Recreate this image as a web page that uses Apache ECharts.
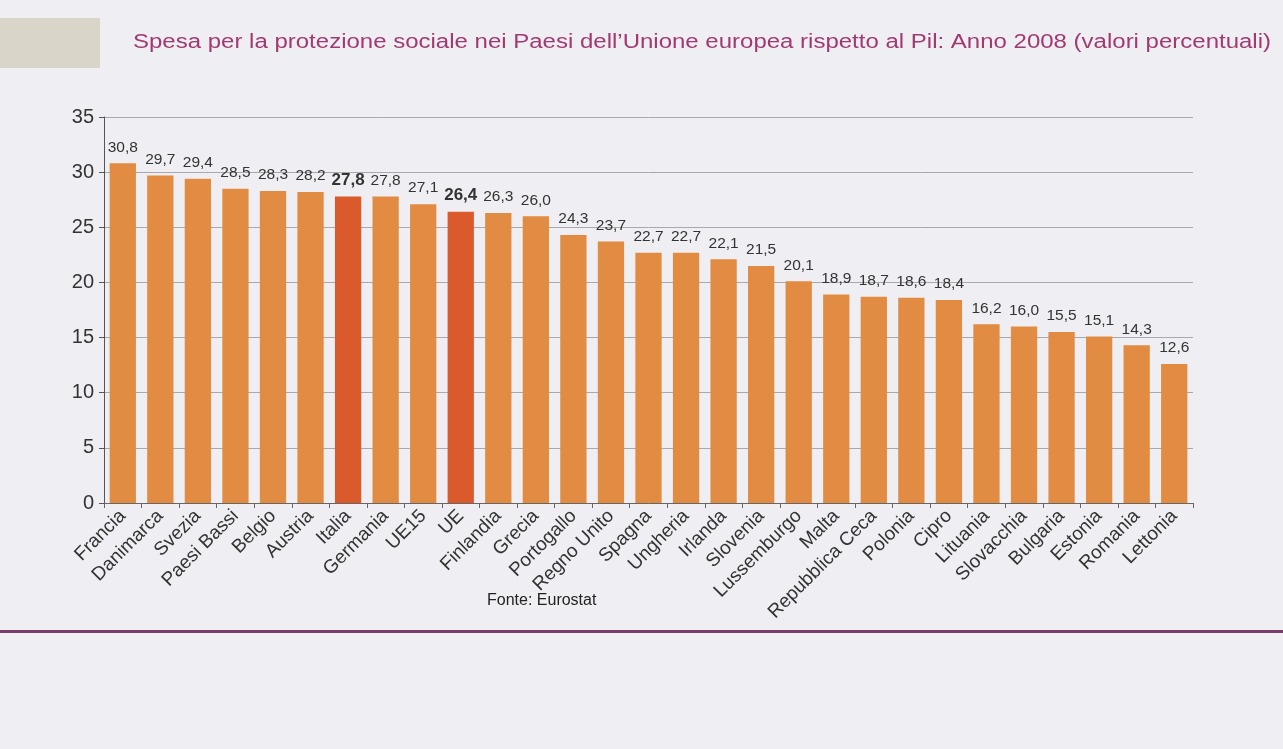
<!DOCTYPE html>
<html>
<head>
<meta charset="utf-8">
<script src="https://cdn.jsdelivr.net/npm/echarts@6/dist/echarts.min.js"></script>
<style>
html,body{margin:0;padding:0;background:#efeff3;}
#c{width:1283px;height:749px;}
</style>
</head>
<body>
<div id="c"></div>
<script>
const titleText = "Spesa per la protezione sociale nei Paesi dell\u2019Unione europea rispetto al Pil: Anno 2008 (valori percentuali)";
const sourceText = "Fonte: Eurostat";
const categories = ["Francia","Danimarca","Svezia","Paesi Bassi","Belgio","Austria","Italia","Germania","UE15","UE","Finlandia","Grecia","Portogallo","Regno Unito","Spagna","Ungheria","Irlanda","Slovenia","Lussemburgo","Malta","Repubblica Ceca","Polonia","Cipro","Lituania","Slovacchia","Bulgaria","Estonia","Romania","Lettonia"];
const values = [30.8,29.7,29.4,28.5,28.3,28.2,27.8,27.8,27.1,26.4,26.3,26.0,24.3,23.7,22.7,22.7,22.1,21.5,20.1,18.9,18.7,18.6,18.4,16.2,16.0,15.5,15.1,14.3,12.6];
const highlighted = ["Italia","UE"];
const yTicks = [0,5,10,15,20,25,30,35];

const chart = echarts.init(document.getElementById('c'), null, {renderer:'canvas'});
const data = values.map((v,i)=>{
  const hi = highlighted.includes(categories[i]);
  return {
    value: v,
    itemStyle: {color: hi ? '#da5a2c' : '#e28b42'},
    label: {fontWeight: hi ? 'bold' : 'normal', fontSize: hi ? 17 : 15.5}
  };
});
chart.setOption({
  backgroundColor: '#efeff3',
  animation: false,
  graphic: [
    {type:'rect', shape:{x:0,y:18,width:100,height:50}, style:{fill:'#d9d5c9'}},
    {type:'text', x:133, y:32, scaleX:1.2, style:{text:titleText, font:'20px "Liberation Sans"', fill:'#a23a72'}},
    {type:'text', x:487, y:593, style:{text:sourceText, font:'16px "Liberation Sans"', fill:'#222'}},
    {type:'rect', shape:{x:0,y:630,width:1283,height:3}, style:{fill:'#7b3d6e'}}
  ],
  grid: {left: 104, right: 90, top: 117, bottom: 246, containLabel: false},
  xAxis: {
    type: 'category',
    data: categories,
    axisLine: {show: true, lineStyle: {color: '#666'}},
    axisTick: {show: true, alignWithLabel: false, length: 5, lineStyle: {color: '#666'}},
    axisLabel: {rotate: 45, interval: 0, fontFamily: 'Liberation Sans', fontSize: 19, color: '#333', margin: 10}
  },
  yAxis: {
    type: 'value', min: 0, max: 35, interval: 5,
    axisLine: {show: true, lineStyle: {color: '#555'}},
    axisTick: {show: true, length: 5, lineStyle: {color: '#555'}},
    axisLabel: {fontFamily: 'Liberation Sans', fontSize: 20, color: '#333', margin: 10,
      formatter: v => yTicks.includes(v) ? String(v) : ''},
    splitLine: {show: true, lineStyle: {color: '#a8a8ae', width: 1}}
  },
  series: [{
    type: 'bar',
    data: data,
    barCategoryGap: '30%',
    label: {
      show: true, position: 'top', distance: 8,
      fontFamily: 'Liberation Sans', color: '#333',
      formatter: p => p.value.toFixed(1).replace('.', ',')
    }
  }]
});
</script>
</body>
</html>
